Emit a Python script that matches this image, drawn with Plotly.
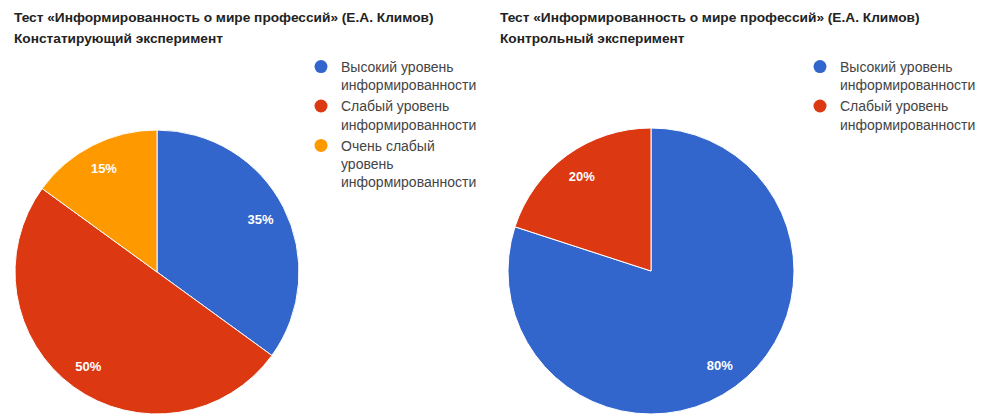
import plotly.graph_objects as go

# page is rendered with the browser's default 8px body margin
OFF = 8
PAGE_W, PAGE_H = 985, 414
W, H = PAGE_W - OFF, PAGE_H - OFF

# ---- data ----
title_line1 = "Тест «Информированность о мире профессий» (Е.А. Климов)"
left_subtitle = "Констатирующий эксперимент"
right_subtitle = "Контрольный эксперимент"

left_labels = ["Высокий уровень информированности",
               "Слабый уровень информированности",
               "Очень слабый уровень информированности"]
left_values = [35, 50, 15]
left_legend_text = ["Высокий уровень<br>информированности",
                    "Слабый уровень<br>информированности",
                    "Очень слабый<br>уровень<br>информированности"]

right_labels = ["Высокий уровень информированности",
                "Слабый уровень информированности"]
right_values = [80, 20]
right_legend_text = ["Высокий уровень<br>информированности",
                     "Слабый уровень<br>информированности"]

colors = ["#3366CC", "#DC3912", "#FF9900"]

FONT = "Liberation Sans, Arial, sans-serif"


def px_x(px):
    return (px - OFF) / W


def px_y(py):
    return 1 - (py - OFF) / H


fig = go.Figure()


def add_pie(labels, values, dom_x, dom_y):
    cols = colors[:len(values)]
    # solid pie
    fig.add_trace(go.Pie(
        labels=labels, values=values, sort=False, direction="clockwise", rotation=0,
        marker=dict(colors=cols, line=dict(color="white", width=1)),
        textinfo="none", domain=dict(x=dom_x, y=dom_y),
        showlegend=False, hoverinfo="label+percent",
    ))
    # transparent ring carrying the percentage labels near the outer part of each slice
    fig.add_trace(go.Pie(
        labels=labels, values=values, sort=False, direction="clockwise", rotation=0,
        hole=0.64,
        marker=dict(colors=["rgba(0,0,0,0)"] * len(values), line=dict(width=0)),
        textinfo="percent", textposition="inside", insidetextorientation="horizontal",
        texttemplate="%{percent:.0%}",
        textfont=dict(color="white", size=13, family=FONT, weight="bold"),
        domain=dict(x=dom_x, y=dom_y),
        showlegend=False, hoverinfo="skip",
    ))


add_pie(left_labels, left_values, [px_x(15), px_x(299)], [0, px_y(130)])
add_pie(right_labels, right_values, [px_x(508), px_x(794)], [0, px_y(128)])

# legend entries (circle markers)
for i, name in enumerate(left_legend_text):
    fig.add_trace(go.Scatter(x=[None], y=[None], mode="markers", name=name,
                             marker=dict(symbol="circle", size=13, color=colors[i]),
                             legend="legend", hoverinfo="skip"))
for i, name in enumerate(right_legend_text):
    fig.add_trace(go.Scatter(x=[None], y=[None], mode="markers", name=name,
                             marker=dict(symbol="circle", size=13, color=colors[i]),
                             legend="legend2", hoverinfo="skip"))

legend_common = dict(font=dict(family=FONT, size=14, color="#444"), bgcolor="rgba(0,0,0,0)",
                     bordercolor="rgba(0,0,0,0)", valign="top", xanchor="left", yanchor="top",
                     itemclick=False, itemdoubleclick=False)

annotations = []
for x0, sub in [(12, left_subtitle), (498, right_subtitle)]:
    annotations.append(dict(text=title_line1, x=px_x(x0), y=px_y(18), xref="paper", yref="paper",
                            xanchor="left", yanchor="middle", showarrow=False,
                            font=dict(family=FONT, size=13.7, color="#222", weight="bold")))
    annotations.append(dict(text=sub, x=px_x(x0), y=px_y(38), xref="paper", yref="paper",
                            xanchor="left", yanchor="middle", showarrow=False,
                            font=dict(family=FONT, size=13.7, color="#222", weight="bold")))

fig.update_layout(
    width=W, height=H,
    margin=dict(l=0, r=0, t=0, b=0),
    paper_bgcolor="white", plot_bgcolor="white",
    xaxis=dict(visible=False), yaxis=dict(visible=False),
    legend=dict(x=px_x(299), y=px_y(49), borderwidth=2, **legend_common),
    legend2=dict(x=px_x(800), y=px_y(51), borderwidth=0, **legend_common),
    annotations=annotations,
    font=dict(family=FONT),
)

fig.write_html("out.html")
